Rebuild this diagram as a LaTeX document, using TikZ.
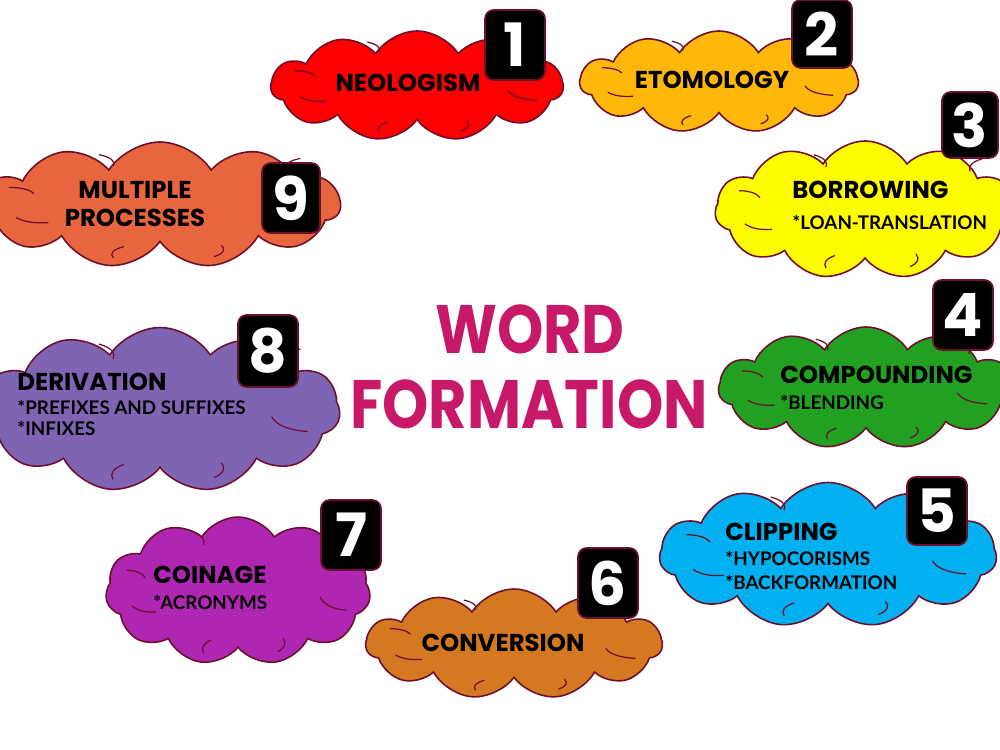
\documentclass[tikz,border=0pt]{standalone}
\usepackage{fontspec}
\usepackage{graphicx}
\setmainfont{Poppins}
\newfontfamily\subfont{Lato}
\usetikzlibrary{shapes.symbols}
\definecolor{cRed}{RGB}{254,0,0}
\definecolor{cOrange}{RGB}{255,183,10}
\definecolor{cYellow}{RGB}{255,252,0}
\definecolor{cGreen}{RGB}{34,160,34}
\definecolor{cBlue}{RGB}{0,176,240}
\definecolor{cBrown}{RGB}{212,120,34}
\definecolor{cMagenta}{RGB}{175,38,178}
\definecolor{cPurple}{RGB}{128,100,180}
\definecolor{cCoral}{RGB}{232,102,62}
\definecolor{cEdge}{RGB}{110,15,45}
\definecolor{cTitle}{RGB}{200,25,105}
\tikzset{
  puff/.style={cloud, cloud puffs=11, cloud puff arc=115, cloud ignores aspect,
    draw=cEdge, line width=0.9pt, inner sep=0pt},
  arcline/.style={draw=cEdge, line width=0.7pt},
  numbox/.style={fill=black, draw=cEdge, line width=1pt, rounded corners=5pt,
    minimum width=60*0.02cm, minimum height=70*0.02cm, inner sep=0pt,
    text=white, font=\fontsize{34pt}{36pt}\selectfont\bfseries},
  mainlbl/.style={inner sep=0pt, font=\fontsize{13.9pt}{16pt}\selectfont\bfseries},
  sublbl/.style={inner sep=0pt, font=\subfont\fontsize{10.7pt}{12pt}\selectfont\bfseries},
  titlelbl/.style={inner sep=0pt, text=cTitle, font=\fontsize{39pt}{44pt}\selectfont\bfseries}
}
% the interior arcs of a cloud, in coordinates normalised to the cloud's half sizes
\newcommand\arcA{\draw[arcline] (-0.80,0.20) to[bend right=35] (-0.62,0.28);}
\newcommand\arcB{\draw[arcline] (-0.26,0.84) to[bend left=35] (-0.20,0.66);}
\newcommand\arcC{\draw[arcline] (0.34,0.64) to[bend left=35] (0.30,0.82);}
\newcommand\arcD{\draw[arcline] (0.62,0.08) to[bend right=35] (0.82,0.26);}
\newcommand\arcE{\draw[arcline] (0.78,-0.74) to[bend right=35] (0.70,-0.56);}
\newcommand\arcF{\draw[arcline] (-0.34,-0.80) to[bend left=35] (-0.26,-0.62);}
\newcommand\arcG{\draw[arcline] (-0.84,-0.28) to[bend left=35] (-0.70,-0.18);}
% centre, width, height (pixels), arcs to draw
\newcommand\cloudarcs[4]{%
  \begin{scope}[shift={#1}, xscale=#2/2, yscale=#3/2]
    #4
  \end{scope}}
\begin{document}
\begin{tikzpicture}[x=0.02cm, y=-0.02cm]
\useasboundingbox (0,0) rectangle (1000,750);
% clouds
\node[puff, fill=cRed, minimum width=292*0.02cm, minimum height=110*0.02cm] (c1) at (417,86) {};
\cloudarcs{(417,86)}{292}{110}{\arcA\arcB\arcC\arcD\arcE\arcF\arcG}
\node[puff, fill=cOrange, minimum width=278*0.02cm, minimum height=102*0.02cm] (c2) at (719,82) {};
\cloudarcs{(719,82)}{278}{102}{\arcA\arcB\arcC\arcD\arcE\arcF\arcG}
\node[puff, fill=cYellow, minimum width=300*0.02cm, minimum height=138*0.02cm] (c3) at (865,210) {};
\cloudarcs{(865,210)}{300}{138}{\arcA\arcB\arcC\arcE\arcF\arcG}
\node[puff, fill=cGreen, minimum width=295*0.02cm, minimum height=122*0.02cm] (c4) at (866,388) {};
\cloudarcs{(866,388)}{295}{122}{\arcA\arcB\arcC\arcD\arcE\arcF\arcG}
\node[puff, fill=cBlue, minimum width=337*0.02cm, minimum height=145*0.02cm] (c5) at (828,555) {};
\cloudarcs{(828,555)}{337}{145}{\arcA\arcB\arcC\arcD\arcE\arcF\arcG}
\node[puff, fill=cBrown, minimum width=296*0.02cm, minimum height=110*0.02cm] (c6) at (514,644) {};
\cloudarcs{(514,644)}{296}{110}{\arcA\arcB\arcC\arcD\arcE\arcF\arcG}
\node[puff, fill=cMagenta, minimum width=265*0.02cm, minimum height=148*0.02cm] (c7) at (238,591) {};
\cloudarcs{(238,591)}{265}{148}{\arcA\arcB\arcC\arcD\arcE\arcF\arcG}
\node[puff, fill=cPurple, minimum width=360*0.02cm, minimum height=165*0.02cm] (c8) at (160,410) {};
\cloudarcs{(160,410)}{360}{165}{\arcB\arcC\arcD\arcE\arcF}
\node[puff, fill=cCoral, minimum width=360*0.02cm, minimum height=126*0.02cm] (c9) at (160,205) {};
\cloudarcs{(160,205)}{360}{126}{\arcA\arcB\arcC\arcD\arcE\arcF\arcG}
% labels
\node[mainlbl] (t1) at (408,83) {NEOLOGISM};
\node[mainlbl] (t2) at (712,80) {ETOMOLOGY};
\node[mainlbl, anchor=west] (t3a) at (792,190) {BORROWING};
\node[sublbl, anchor=west] (t3b) at (792,222) {*LOAN-TRANSLATION};
\node[mainlbl, anchor=west] (t4a) at (780,375) {COMPOUNDING};
\node[sublbl, anchor=west] (t4b) at (780,402) {*BLENDING};
\node[mainlbl, anchor=west] (t5a) at (725,532) {CLIPPING};
\node[sublbl, anchor=west] (t5b) at (725,558) {*HYPOCORISMS};
\node[sublbl, anchor=west] (t5c) at (725,582) {*BACKFORMATION};
\node[mainlbl] (t6) at (503,643) {CONVERSION};
\node[mainlbl, anchor=west] (t7a) at (153,575) {COINAGE};
\node[sublbl, anchor=west] (t7b) at (153,602) {*ACRONYMS};
\node[mainlbl, anchor=west] (t8a) at (17,382) {DERIVATION};
\node[sublbl, anchor=west] (t8b) at (17,407) {*PREFIXES AND SUFFIXES};
\node[sublbl, anchor=west] (t8c) at (17,428) {*INFIXES};
\node[mainlbl] (t9a) at (135,190) {MULTIPLE};
\node[mainlbl] (t9b) at (135,218) {PROCESSES};
% number boxes
\node[numbox] (b1) at (515,45) {1};
\node[numbox, minimum height=68*0.02cm] (b2) at (822,34) {2};
\node[numbox, minimum width=56*0.02cm, minimum height=66*0.02cm] (b3) at (970,125) {3};
\node[numbox] (b4) at (963,315) {4};
\node[numbox, minimum height=68*0.02cm] (b5) at (937,511) {5};
\node[numbox] (b6) at (608,583) {6};
\node[numbox] (b7) at (351,535) {7};
\node[numbox, minimum height=72*0.02cm] (b8) at (268,351) {8};
\node[numbox, minimum width=58*0.02cm] (b9) at (291,198) {9};
% title
\node[titlelbl] (w1) at (530,329) {\scalebox{0.86}[1]{WORD}};
\node[titlelbl] (w2) at (529,404) {\scalebox{0.86}[1]{FORMATION}};
\end{tikzpicture}
\end{document}
